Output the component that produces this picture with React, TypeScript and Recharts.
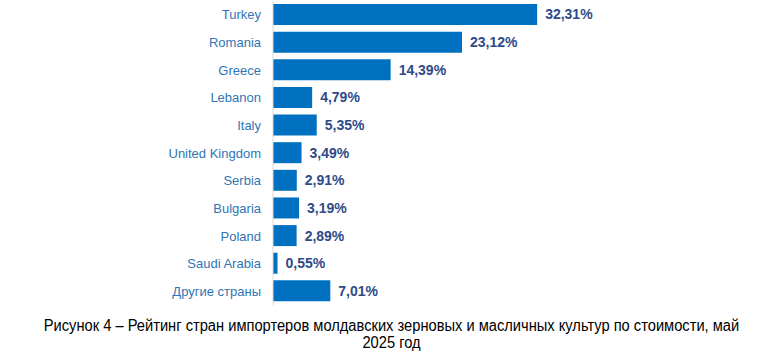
import { BarChart, Bar, XAxis, YAxis, LabelList } from 'recharts'

const COUNTRIES = [
  'Turkey',
  'Romania',
  'Greece',
  'Lebanon',
  'Italy',
  'United Kingdom',
  'Serbia',
  'Bulgaria',
  'Poland',
  'Saudi Arabia',
  'Другие страны',
]

const SHARES = [32.31, 23.12, 14.39, 4.79, 5.35, 3.49, 2.91, 3.19, 2.89, 0.55, 7.01]

const CAPTION_LINES = [
  'Рисунок 4 – Рейтинг стран импортеров молдавских зерновых и масличных культур по стоимости, май',
  '2025 год',
]

const data = COUNTRIES.map((country, i) => ({ country, share: SHARES[i] }))

const fmtPct = (v: number) => `${v.toFixed(2).replace('.', ',')}%`

export default function App() {
  return (
    <div
      style={{
        position: 'fixed',
        left: 0,
        top: 0,
        width: 783,
        height: 353,
        background: '#fff',
        fontFamily: '"Liberation Sans", Arial, sans-serif',
      }}
    >
      <BarChart
        layout="vertical"
        width={783}
        height={310}
        data={data}
        margin={{ top: 1, right: 183, bottom: 5, left: 0 }}
      >
        <XAxis type="number" domain={[0, 40]} hide />
        <YAxis
          type="category"
          dataKey="country"
          width={273}
          tickLine={false}
          axisLine={{ stroke: '#d9d9d9' }}
          tickMargin={6}
          tick={{ fill: '#2f75b5', fontSize: 13 }}
          interval={0}
        />
        <Bar dataKey="share" fill="#0070c0" barSize={21} isAnimationActive={false}>
          <LabelList
            dataKey="share"
            position="right"
            offset={8}
            formatter={(v: any) => fmtPct(Number(v))}
            style={{ fill: '#2f4a87', fontSize: 14, fontWeight: 700 }}
          />
        </Bar>
      </BarChart>
      <div
        style={{
          position: 'absolute',
          left: 0,
          top: 317,
          width: 783,
          textAlign: 'center',
          fontSize: 16,
          lineHeight: '17px',
          color: '#000',
        }}
      >
        {CAPTION_LINES.map((line) => (
          <div key={line} style={{ transform: 'scaleX(0.917)', transformOrigin: 'center' }}>
            {line}
          </div>
        ))}
      </div>
    </div>
  )
}
